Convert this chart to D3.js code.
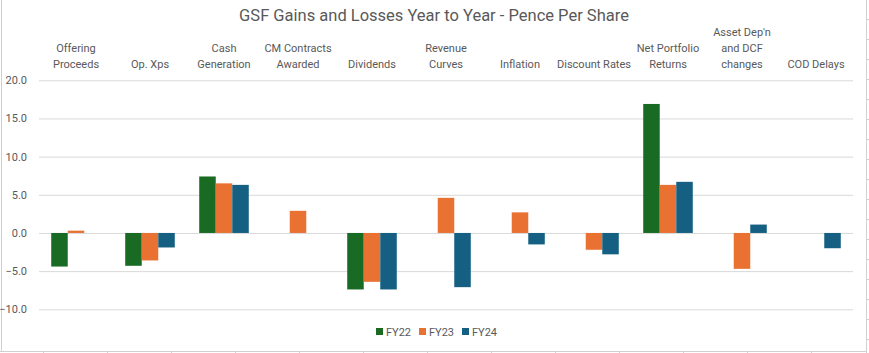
<!DOCTYPE html>
<html>
    <head>
        <meta charset="UTF-8">
        <title>GSF Gains and Losses</title>
        <style>
            body {margin:0; background:#fff;}
            text {font-family: Roboto, "Liberation Sans", sans-serif; fill:#595959;}
            .grid line {stroke:#d9d9d9; stroke-width:1px;}
        </style>
        <script src="https://cdn.jsdelivr.net/npm/d3@7/dist/d3.min.js"></script>
    </head>
    <body>
        <svg width="869" height="353"></svg>
        <script>
            // data
            var categories = [["Offering","Proceeds"],["Op. Xps"],["Cash","Generation"],["CM Contracts","Awarded"],
                              ["Dividends"],["Revenue","Curves"],["Inflation"],["Discount Rates"],
                              ["Net Portfolio","Returns"],["Asset Dep'n","and DCF","changes"],["COD Delays"]];
            var series = ["FY22","FY23","FY24"];
            var fy22 = [-4.4, -4.3, 7.4, 0, -7.4, 0, 0, 0, 16.9, 0, 0];
            var fy23 = [0.3, -3.6, 6.5, 2.9, -6.4, 4.6, 2.7, -2.2, 6.3, -4.7, 0];
            var fy24 = [0, -1.9, 6.3, 0, -7.4, -7.1, -1.5, -2.8, 6.7, 1.1, -2.0];
            var yTicks = [-10, -5, 0, 5, 10, 15, 20];
            var colors = ["#196b24", "#e97132", "#156082"];

            var svg = d3.select("svg");
            var values = [fy22, fy23, fy24];

            //... spreadsheet frame
            svg.append("line").attr("x1",1.5).attr("x2",1.5).attr("y1",0).attr("y2",351).attr("stroke","#d0d0d0");
            svg.append("line").attr("x1",866.5).attr("x2",866.5).attr("y1",0).attr("y2",353).attr("stroke","#d0d0d0");
            svg.append("line").attr("x1",0).attr("x2",867).attr("y1",351.5).attr("y2",351.5).attr("stroke","#d0d0d0");
            d3.range(19, 353, 20).forEach(function(y) {
                svg.append("line").attr("x1",867).attr("x2",869).attr("y1",y+0.5).attr("y2",y+0.5).attr("stroke","#d0d0d0");
            });
            d3.range(43, 866, 64).forEach(function(x) {
                svg.append("line").attr("x1",x+0.5).attr("x2",x+0.5).attr("y1",352).attr("y2",353).attr("stroke","#d0d0d0");
            });

            var x0 = d3.scaleBand().domain(d3.range(categories.length)).range([39, 853]);
            var x1 = d3.scaleBand().domain(series).range([0, x0.bandwidth()]).paddingOuter(0.74);
            var y = d3.scaleLinear().domain([-10, 20]).range([309.3, 80.3]);

            //... gridlines and y labels
            var yAxis = d3.axisLeft(y).tickValues(yTicks).tickFormat(d3.format(".1f"))
                          .tickSize(-(853 - 39)).tickPadding(12);
            var ga = svg.append("g").attr("class","grid").attr("transform","translate(39,0)").call(yAxis);
            ga.select(".domain").remove();
            ga.selectAll("text").style("font-size","11px").attr("fill","#595959")
              .style("font-family","Roboto, sans-serif");

            //... bars
            series.forEach(function(s, i) {
                svg.append("g").selectAll("rect")
                    .data(values[i])
                    .enter()
                    .append("rect")
                    .attr("x", (d, j) => x0(j) + x1(s))
                    .attr("width", x1.bandwidth())
                    .attr("y", d => y(Math.max(0, d)))
                    .attr("height", d => Math.abs(y(d) - y(0)))
                    .attr("fill", colors[i]);
            });

            //... category labels on top
            var cl = svg.append("g").selectAll("text")
                .data(categories)
                .enter()
                .append("text")
                .attr("text-anchor","middle")
                .style("font-size","11px")
                .attr("transform", (d, j) => "translate(" + (x0(j) + x0.bandwidth() / 2) + ",0)");
            cl.each(function(lines) {
                var t = d3.select(this);
                lines.forEach(function(l, k) {
                    t.append("tspan").attr("x", 0).attr("y", 68 - (lines.length - 1 - k) * 16).text(l);
                });
            });

            //... title
            svg.append("text").attr("x", 434).attr("y", 21).attr("text-anchor","middle")
               .style("font-size","16.5px").text("GSF Gains and Losses Year to Year - Pence Per Share");

            //... legend
            var legX = [376, 419, 462];
            var lg = svg.append("g").selectAll("g")
                .data(series)
                .enter()
                .append("g")
                .attr("transform", (d, i) => "translate(" + legX[i] + ",328)");
            lg.append("rect").attr("width",7).attr("height",7).attr("fill", (d, i) => colors[i]);
            lg.append("text").attr("x",10).attr("y",7.5).style("font-size","11px").text(d => d);
        </script>
    </body>
</html>
